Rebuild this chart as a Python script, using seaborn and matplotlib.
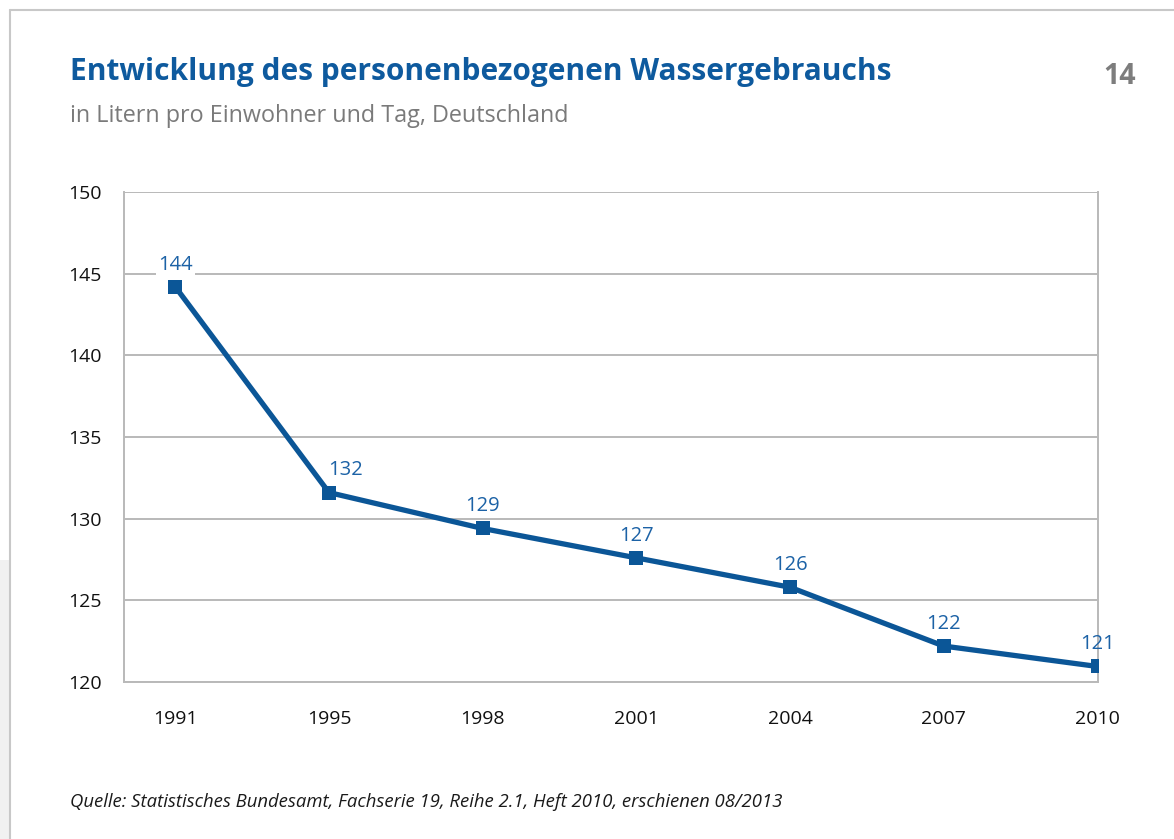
import numpy as np
import pandas as pd
import matplotlib.pyplot as plt
import seaborn as sns
from matplotlib.lines import Line2D
from matplotlib.patches import Rectangle

# data (Liter pro Einwohner und Tag)
years = ["1991", "1995", "1998", "2001", "2004", "2007", "2010"]
liters = [144.2, 131.6, 129.4, 127.6, 125.8, 122.2, 120.95]
labels = ["144", "132", "129", "127", "126", "122", "121"]
yticks = [120, 125, 130, 135, 140, 145, 150]

blue = "#0b5697"
label_blue = "#1c62a6"
grid_gray = "#b9b9b9"

sns.set_style("white")
plt.rcParams["font.family"] = ["Open Sans", "DejaVu Sans"]

fig = plt.figure(figsize=(11.74, 8.39), dpi=100)
ax = fig.add_axes([124 / 1174, 1 - 682 / 839, (1097.5 - 124) / 1174, (682 - 192) / 839])

df = pd.DataFrame({"year": years, "liters": liters})
sns.lineplot(data=df, x="year", y="liters", sort=False, color=blue, linewidth=3.8,
             marker="s", markersize=9.5, markeredgewidth=0, ax=ax, zorder=5)

ax.set_ylim(120, 150)
ax.set_xlim(-1 / 3, len(years) - 1)
ax.set_yticks(yticks)
ax.set_xticks(range(len(years)))
ax.set_xticklabels(years)
ax.set_xticks(np.arange(0.5, len(years) - 1, 1), minor=True)
ax.set_xlabel("")
ax.set_ylabel("")
ax.yaxis.grid(True, color=grid_gray, linewidth=1.4)
ax.set_axisbelow(True)

for side in ["left", "bottom", "right"]:
    ax.spines[side].set_color(grid_gray)
    ax.spines[side].set_linewidth(1.4)
ax.spines["top"].set_visible(False)

ax.tick_params(axis="both", which="both", colors=grid_gray, labelcolor="#111111",
               labelsize=14, width=1.2)
ax.tick_params(axis="x", which="both", length=7, pad=13)
ax.tick_params(axis="y", length=6, pad=10)

# value labels
for i, (v, txt) in enumerate(zip(liters, labels)):
    dx = 12 if i == 1 else 0
    bbox = dict(facecolor="white", edgecolor="none", pad=1.5) if i == 0 else None
    ax.annotate(txt, (i, v), xytext=(dx, 16), textcoords="offset points",
                ha="center", va="center", fontsize=14.5, color=label_blue,
                bbox=bbox, zorder=6)

# titles and source
fig.text(70 / 1174, 1 - 72 / 839, "Entwicklung des personenbezogenen Wassergebrauchs",
         fontsize=21.5, fontweight="bold", color="#0e5a9e", va="center", ha="left")
fig.text(70 / 1174, 1 - 116 / 839, "in Litern pro Einwohner und Tag, Deutschland",
         fontsize=16.8, color="#7a7a7a", va="center", ha="left")
fig.text(1136 / 1174, 1 - 76 / 839, "14", fontsize=20.5, fontweight="bold",
         color="#7d7d7d", va="center", ha="right")
fig.text(70 / 1174, 1 - 802 / 839,
         "Quelle: Statistisches Bundesamt, Fachserie 19, Reihe 2.1, Heft 2010, erschienen 08/2013",
         fontsize=13.3, style="italic", color="#1a1a1a", va="center", ha="left")

# page frame
fig.patches.append(Rectangle((0, 0), 9 / 1174, 1 - 560 / 839, transform=fig.transFigure,
                             facecolor="#f1f1f1", edgecolor="none"))
fig.lines.append(Line2D([9.5 / 1174, 1], [1 - 10 / 839, 1 - 10 / 839],
                        transform=fig.transFigure, color="#c8c8c8", linewidth=1.5))
fig.lines.append(Line2D([9.5 / 1174, 9.5 / 1174], [0, 1 - 10 / 839],
                        transform=fig.transFigure, color="#c8c8c8", linewidth=1.5))

fig.savefig("out.png", dpi=100)
